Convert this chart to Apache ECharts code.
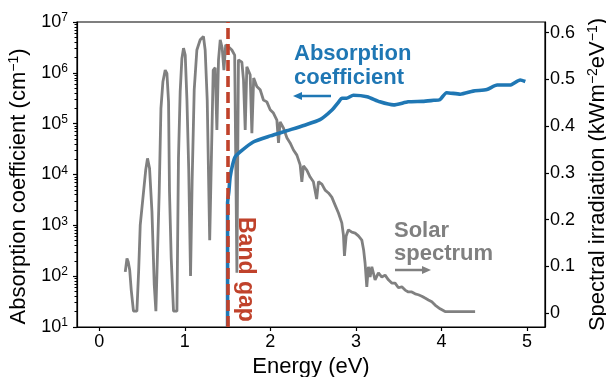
<!DOCTYPE html>
<html><head><meta charset="utf-8">
<script src="https://cdn.jsdelivr.net/npm/echarts@6/dist/echarts.min.js"></script>
<style>html,body{margin:0;padding:0;background:#fff}#c{width:606px;height:377px}</style>
</head><body><div id="c"></div>
<script>
// ---- data ----
const bandGap = 1.5;
const xTicks = [0, 1, 2, 3, 4, 5];
const yLogTicks = [10, 100, 1e3, 1e4, 1e5, 1e6, 1e7];
const yLogMinor = [20,30,40,50,60,70,80,90,200,300,400,500,600,700,800,900,2e3,3e3,4e3,5e3,6e3,7e3,8e3,9e3,2e4,3e4,4e4,5e4,6e4,7e4,8e4,9e4,2e5,3e5,4e5,5e5,6e5,7e5,8e5,9e5,2e6,3e6,4e6,5e6,6e6,7e6,8e6,9e6];
const yRightTicks = [0, 0.1, 0.2, 0.3, 0.4, 0.5, 0.6];

// Solar spectrum: photon energy (eV) and spectral irradiance (kW m^-2 eV^-1)
const solarE = [
  0.304,0.324,0.339,0.356,0.374,0.400,0.440,0.461,0.479,0.518,
  0.543,0.564,0.588,0.616,0.643,0.662,0.681,0.701,0.721,0.744,
  0.771,0.791,0.810,0.821,0.841,0.868,0.908,0.926,0.946,0.966,
  0.985,1.005,1.025,1.046,1.067,1.086,1.110,1.141,1.180,1.218,
  1.238,1.262,1.291,1.308,1.332,1.355,1.375,1.394,1.414,1.437,
  1.457,1.478,1.510,1.550,1.583,1.609,1.627,1.667,1.686,1.706,
  1.725,1.764,1.784,1.805,1.842,1.881,1.919,1.959,1.998,2.036,
  2.076,2.095,2.114,2.153,2.193,2.231,2.270,2.310,2.348,2.368,
  2.387,2.426,2.465,2.503,2.541,2.562,2.602,2.640,2.679,2.718,
  2.757,2.796,2.835,2.854,2.866,2.886,2.912,2.952,2.991,3.029,
  3.069,3.090,3.107,3.127,3.146,3.166,3.186,3.224,3.263,3.303,
  3.341,3.380,3.419,3.458,3.497,3.536,3.575,3.613,3.653,3.692,
  3.730,3.770,3.808,3.847,3.887,3.925,3.984,4.042,4.393
];
const solarIrr = [
  0.088,0.117,0.109,0.092,0.049,0.004,0.004,0.092,0.188,0.260,
  0.306,0.331,0.310,0.217,0.060,0.004,0.004,0.260,0.438,0.495,
  0.520,0.513,0.452,0.260,0.118,0.004,0.004,0.331,0.474,0.545,
  0.567,0.552,0.456,0.306,0.079,0.285,0.478,0.563,0.585,0.592,
  0.563,0.456,0.156,0.306,0.520,0.525,0.392,0.542,0.585,0.567,
  0.520,0.574,0.570,0.563,0.552,0.086,0.542,0.537,0.499,0.392,
  0.527,0.510,0.385,0.503,0.485,0.478,0.456,0.452,0.435,0.428,
  0.413,0.364,0.409,0.396,0.375,0.364,0.349,0.338,0.317,0.281,
  0.315,0.306,0.291,0.281,0.244,0.281,0.276,0.263,0.257,0.248,
  0.231,0.214,0.193,0.167,0.122,0.165,0.178,0.173,0.171,0.165,
  0.156,0.135,0.107,0.056,0.099,0.077,0.099,0.071,0.086,0.077,
  0.081,0.071,0.064,0.064,0.054,0.056,0.049,0.045,0.045,0.041,
  0.039,0.036,0.032,0.028,0.024,0.017,0.009,0.003,0.003
];

// Absorption coefficient: photon energy (eV) and alpha (cm^-1)
const absE = [1.5, 1.5, 1.515, 1.53, 1.56, 1.59, 1.65, 1.80, 2.00, 2.19, 2.40,
  2.58, 2.72, 2.80, 2.835, 2.89, 2.97, 3.13, 3.28, 3.44, 3.61,
  3.78, 3.91, 3.98, 4.06, 4.22, 4.37, 4.53, 4.65, 4.80, 4.92, 4.98];
const absCoef = [10, 2750, 4600, 8900, 15800, 22400, 28200, 43600, 57500, 72400, 93300,
  120000, 186000, 269000, 316000, 316000, 363000, 339000, 269000, 234000, 269000,
  275000, 288000, 295000, 407000, 380000, 437000, 468000, 575000, 575000, 724000, 676000];

// ---- chart ----
const FONT = '"Liberation Sans", Arial, Helvetica, sans-serif';
const BLUE = '#1f77b4', GRAY = '#808080', RED = '#c0422b';
const chart = echarts.init(document.getElementById('c'), null, {renderer: 'canvas'});

const solarData = solarE.map((e, i) => [e, solarIrr[i]]);
const absData = absE.map((e, i) => [e, absCoef[i]]);

const option = {
  animation: false,
  backgroundColor: '#fff',
  textStyle: {fontFamily: FONT},
  grid: {left: 77, right: 61, top: 22, bottom: 50, show: true, borderColor: '#000', borderWidth: 1.2,
    backgroundColor: 'transparent', containLabel: false, outerBoundsMode: 'none'},
  xAxis: {
    type: 'value', min: -0.26, max: 5.21,
    axisLine: {onZero: false, lineStyle: {color: '#000', width: 1.2}},
    axisTick: {customValues: xTicks, length: 4, lineStyle: {color: '#000', width: 1.2}},
    axisLabel: {customValues: xTicks, fontSize: 18, color: '#000', margin: 6, fontFamily: FONT},
    splitLine: {show: false},
    name: 'Energy (eV)', nameLocation: 'middle', nameGap: 27,
    nameTextStyle: {fontSize: 22, color: '#000', fontFamily: FONT}
  },
  yAxis: [
    {
      type: 'log', logBase: 10, min: 10, max: 1e7, position: 'left',
      axisLine: {show: true, onZero: false, lineStyle: {color: '#000', width: 1.2}},
      axisTick: {customValues: yLogTicks, length: 4, lineStyle: {color: '#000', width: 1.2}},
      axisLabel: {
        customValues: yLogTicks, margin: 9, color: '#000',
        formatter: v => '{b|10}{s|' + Math.round(Math.log10(v)) + '}',
        rich: {
          b: {fontSize: 18, color: '#000', fontFamily: FONT},
          s: {fontSize: 12, color: '#000', fontFamily: FONT, verticalAlign: 'top', padding: [0, 0, 8, 0]}
        }
      },
      splitLine: {show: false},
      name: 'Absorption coefficient (cm{s|−1})', nameLocation: 'middle', nameGap: 44, nameRotate: 90,
      nameTextStyle: {fontSize: 22, color: '#000', fontFamily: FONT, padding: [0, 24, 0, 0],
        rich: {s: {fontSize: 14, color: '#000', fontFamily: FONT, verticalAlign: 'top', padding: [0, 0, 10, 0]}}}
    },
    {
      type: 'value', min: -0.03, max: 0.623, position: 'right',
      axisLine: {show: true, onZero: false, lineStyle: {color: '#000', width: 1.2}},
      axisTick: {customValues: yRightTicks, length: 4, lineStyle: {color: '#000', width: 1.2}},
      axisLabel: {customValues: yRightTicks, fontSize: 18, color: '#000', margin: 5, fontFamily: FONT,
        formatter: v => (Math.abs(v) < 1e-9 ? '0' : v.toFixed(1))},
      splitLine: {show: false},
      name: 'Spectral irradiation (kWm{s|−2}eV{s|−1})', nameLocation: 'middle', nameGap: 35, nameRotate: 90,
      nameTextStyle: {fontSize: 22, color: '#000', fontFamily: FONT,
        rich: {s: {fontSize: 14, color: '#000', fontFamily: FONT, verticalAlign: 'top', padding: [0, 0, 10, 0]}}}
    },
    {
      // minor ticks of the log axis
      type: 'log', logBase: 10, min: 10, max: 1e7, position: 'left', offset: 0,
      axisLine: {show: false, onZero: false},
      axisTick: {show: true, customValues: yLogMinor, length: 2.5, lineStyle: {color: '#000', width: 1}},
      axisLabel: {show: false},
      splitLine: {show: false}
    }
  ],
  series: [
    {
      name: 'Solar spectrum', type: 'line', yAxisIndex: 1, data: solarData,
      showSymbol: false, symbol: 'none', z: 2,
      lineStyle: {color: GRAY, width: 2.8}
    },
    {
      name: 'Absorption coefficient', type: 'line', yAxisIndex: 0, data: absData,
      showSymbol: false, symbol: 'none', z: 3, smooth: 0.2,
      lineStyle: {color: BLUE, width: 3.6}
    },
    {
      name: 'Band gap', type: 'line', yAxisIndex: 0, data: [], z: 5,
      markLine: {
        silent: true, symbol: 'none', label: {show: false}, z: 5,
        lineStyle: {color: RED, width: 3.6, type: [11, 5]},
        data: [{xAxis: bandGap}]
      }
    }
  ],
  graphic: [
    {type: 'text', left: 294, top: 42, style: {text: 'Absorption\ncoefficient', fill: BLUE, font: 'bold 22px ' + FONT, lineHeight: 24}},
    {type: 'line', shape: {x1: 331, y1: 96, x2: 300, y2: 96}, style: {stroke: BLUE, lineWidth: 2.5}},
    {type: 'polygon', shape: {points: [[293, 96], [302, 92], [302, 100]]}, style: {fill: BLUE}},
    {type: 'text', left: 394, top: 219, style: {text: 'Solar\nspectrum', fill: GRAY, font: 'bold 22px ' + FONT, lineHeight: 23}},
    {type: 'line', shape: {x1: 395, y1: 270, x2: 424, y2: 270}, style: {stroke: GRAY, lineWidth: 2.5}},
    {type: 'polygon', shape: {points: [[431, 270], [422, 266], [422, 274]]}, style: {fill: GRAY}},
    {type: 'text', x: 257, y: 217, rotation: -Math.PI / 2, style: {text: 'Band gap', fill: RED, font: 'bold 23px ' + FONT, align: 'left', verticalAlign: 'top'}}
  ]
};
chart.setOption(option);
</script>
</body></html>
